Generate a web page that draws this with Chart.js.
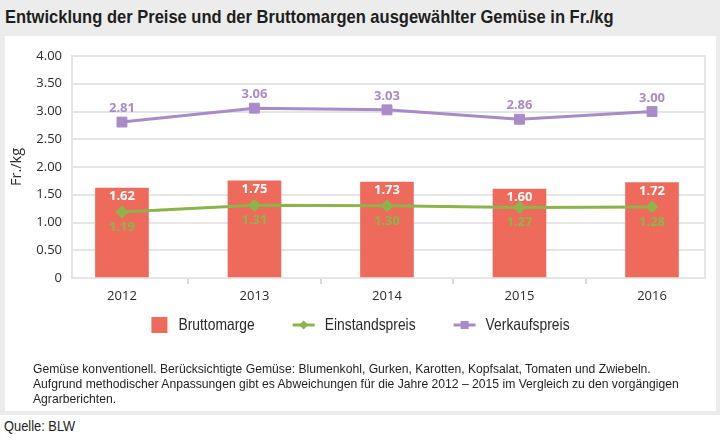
<!DOCTYPE html>
<html lang="de">
<head>
<meta charset="utf-8">
<title>Preise und Bruttomargen Gemüse</title>
<script src="https://cdn.jsdelivr.net/npm/chart.js@4.4.1/dist/chart.umd.min.js"></script>
<style>
  html, body { margin: 0; padding: 0; background: #fff; }
  body { width: 720px; height: 444px; position: relative; overflow: hidden; }
  #band { position: absolute; left: 0; top: 0; width: 720px; height: 415px; background: #ececec; }
  #panel { position: absolute; left: 5px; top: 36px; width: 711px; height: 375px; background: #fff; }
  .narrow { position: absolute; white-space: nowrap; color: #1e1e1e; transform-origin: 0 0; font-family: "Liberation Sans", Arial, sans-serif; }
  #title { left: 5px; top: 7px; font-weight: bold; font-size: 18.5px; line-height: 20px; transform: scaleX(0.893); }
  #chart { position: absolute; left: 5px; top: 36px; }
  #note { left: 33px; top: 362px; font-size: 13.5px; line-height: 14.8px; transform: scaleX(0.9); }
  #source { left: 4px; top: 417px; font-size: 15.5px; line-height: 18px; transform: scaleX(0.83); }
</style>
</head>
<body>
<div id="band"></div>
<div id="panel"></div>
<div id="title" class="narrow">Entwicklung der Preise und der Bruttomargen ausgewählter Gemüse in Fr./kg</div>
<canvas id="chart" width="711" height="375" style="width:711px;height:375px"></canvas>
<div id="note" class="narrow">Gemüse konventionell. Berücksichtigte Gemüse: Blumenkohl, Gurken, Karotten, Kopfsalat, Tomaten und Zwiebeln.<br>Aufgrund methodischer Anpassungen gibt es Abweichungen für die Jahre 2012 – 2015 im Vergleich zu den vorgängigen<br>Agrarberichten.</div>
<div id="source" class="narrow">Quelle: BLW</div>

<script>
// Jahre und Werte in Fr./kg
const years = ["2012", "2013", "2014", "2015", "2016"];
const bruttomarge = [1.62, 1.75, 1.73, 1.60, 1.72];
const einstandspreis = [1.19, 1.31, 1.30, 1.27, 1.28];
const verkaufspreis = [2.81, 3.06, 3.03, 2.86, 3.00];
const yTicks = [0, 0.5, 1, 1.5, 2, 2.5, 3, 3.5, 4];

const RED = "#ee6b5c";
const GREEN = "#8cb44a";
const PURPLE = "#a98bc8";
const GRID = "#e5e5e5";
const TEXT = "#2a2a2a";

Chart.defaults.font.family = '"Open Sans", sans-serif';
Chart.defaults.color = TEXT;

// Rahmen um die Zeichenfläche
const plotFrame = {
  id: "plotFrame",
  beforeDatasetsDraw(chart) {
    const a = chart.chartArea;
    const ctx = chart.ctx;
    ctx.save();
    ctx.strokeStyle = GRID;
    ctx.lineWidth = 2;
    ctx.strokeRect(a.left, a.top, a.right - a.left, a.bottom - a.top);
    ctx.restore();
  }
};

// Werte an Balken und Punkten
const valueLabels = {
  id: "valueLabels",
  afterDatasetsDraw(chart) {
    const ctx = chart.ctx;
    chart.data.datasets.forEach((ds, i) => {
      const meta = chart.getDatasetMeta(i);
      ctx.save();
      ctx.font = 'bold 13px "Open Sans", sans-serif';
      ctx.fillStyle = ds.labelColor;
      ctx.textAlign = "center";
      ctx.textBaseline = "middle";
      meta.data.forEach((el, j) => {
        ctx.fillText(ds.data[j].toFixed(2), el.x, el.y + ds.labelShift);
      });
      ctx.restore();
    });
  }
};

// Legende unter der Grafik (schmal gesetzte Schrift)
const legendRow = {
  id: "legendRow",
  afterDraw(chart) {
    const ctx = chart.ctx;
    const y = 289;
    const gap = 10, spacing = 38, squeeze = 0.84;
    ctx.save();
    ctx.font = '16.5px "Liberation Sans", Arial, sans-serif';
    const items = chart.data.datasets.map(ds => {
      const mw = ds.type === "line" ? 22 : 17;
      return { ds, mw, w: mw + gap + ctx.measureText(ds.label).width * squeeze };
    });
    const total = items.reduce((s, it) => s + it.w, 0) + spacing * (items.length - 1);
    let x = chart.width / 2 - total / 2;
    items.forEach(it => {
      const ds = it.ds;
      if (ds.type === "line") {
        ctx.strokeStyle = ds.borderColor;
        ctx.lineWidth = 3;
        ctx.beginPath();
        ctx.moveTo(x, y);
        ctx.lineTo(x + it.mw, y);
        ctx.stroke();
        ctx.fillStyle = ds.borderColor;
        const cx = x + it.mw / 2;
        ctx.beginPath();
        if (ds.pointStyle === "rectRot") {
          ctx.moveTo(cx, y - 4.5); ctx.lineTo(cx + 4.5, y); ctx.lineTo(cx, y + 4.5); ctx.lineTo(cx - 4.5, y);
        } else {
          ctx.rect(cx - 4, y - 4, 8, 8);
        }
        ctx.closePath();
        ctx.fill();
      } else {
        ctx.fillStyle = ds.backgroundColor;
        ctx.fillRect(x, y - 8, 16, 16);
      }
      ctx.save();
      ctx.translate(x + it.mw + gap, y);
      ctx.scale(squeeze, 1);
      ctx.fillStyle = TEXT;
      ctx.textAlign = "left";
      ctx.textBaseline = "middle";
      ctx.fillText(ds.label, 0, 0);
      ctx.restore();
      x += it.w + spacing;
    });
    ctx.restore();
  }
};

new Chart(document.getElementById("chart"), {
  type: "bar",
  data: {
    labels: years,
    datasets: [
      {
        type: "bar",
        label: "Bruttomarge",
        data: bruttomarge,
        backgroundColor: RED,
        barThickness: 53,
        order: 3,
        labelColor: "#ffffff",
        labelShift: 8.5
      },
      {
        type: "line",
        label: "Einstandspreis",
        data: einstandspreis,
        borderColor: GREEN,
        backgroundColor: GREEN,
        borderWidth: 3,
        tension: 0,
        pointStyle: "rectRot",
        pointRadius: 6,
        pointBorderWidth: 1,
        pointBackgroundColor: GREEN,
        pointBorderColor: GREEN,
        order: 1,
        labelColor: GREEN,
        labelShift: 15
      },
      {
        type: "line",
        label: "Verkaufspreis",
        data: verkaufspreis,
        borderColor: PURPLE,
        backgroundColor: PURPLE,
        borderWidth: 3,
        tension: 0,
        pointStyle: "rect",
        pointRadius: 7,
        pointBorderWidth: 1,
        pointBackgroundColor: PURPLE,
        pointBorderColor: PURPLE,
        order: 2,
        labelColor: PURPLE,
        labelShift: -13.5
      }
    ]
  },
  options: {
    responsive: false,
    animation: false,
    layout: { padding: { top: 20, right: 11, bottom: 103, left: 0 } },
    plugins: {
      legend: { display: false },
      tooltip: { enabled: false }
    },
    scales: {
      x: {
        type: "linear",
        offset: false,
        min: 2011.623,
        max: 2016.4,
        afterBuildTicks: s => { s.ticks = years.map(v => ({ value: Number(v) })); },
        afterFit: s => { s.height = 30; },
        ticks: {
          padding: 4,
          font: { size: 13 },
          callback: v => String(v)
        },
        grid: {
          offset: true,
          drawOnChartArea: false,
          tickLength: 6,
          color: "#d9d9d9",
          lineWidth: 2
        },
        border: { display: false }
      },
      y: {
        min: 0,
        max: 4,
        afterBuildTicks: s => { s.ticks = yTicks.map(v => ({ value: v })); },
        afterFit: s => { s.width = 67; },
        ticks: {
          padding: 10,
          font: { size: 13 },
          callback: v => (v === 0 ? "0" : v.toFixed(2))
        },
        grid: { color: GRID, lineWidth: 2, drawTicks: false },
        border: { color: GRID, width: 2 },
        title: {
          display: true,
          text: "Fr./kg",
          font: { size: 14.5 },
          padding: { top: 3, bottom: 4 }
        }
      }
    }
  },
  plugins: [plotFrame, valueLabels, legendRow]
});
</script>
</body>
</html>
